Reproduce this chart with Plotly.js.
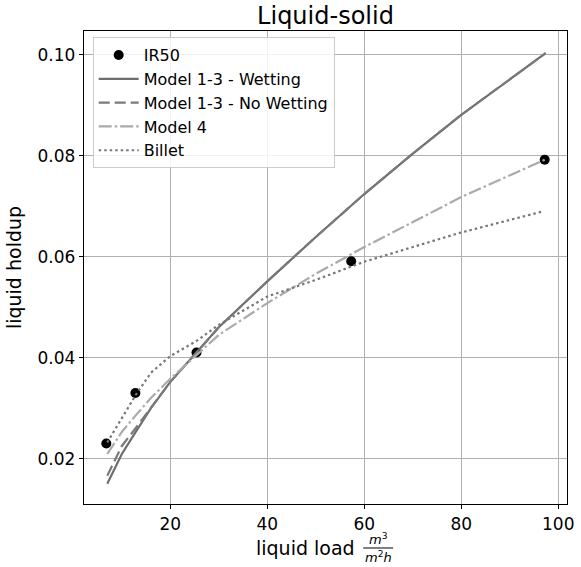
<!DOCTYPE html>
<html>
<head>
<meta charset="utf-8">
<script src="https://cdn.plot.ly/plotly-3.0.1.min.js"></script>
<style>
html,body{margin:0;padding:0;background:#fff;}
#chart{width:581px;height:567px;}
</style>
</head>
<body>
<div id="chart"></div>
<script>
// Experimental data (IR50)
const irX = [6.8, 12.8, 25.4, 57.3, 97.2];
const irY = [0.0230, 0.0330, 0.0410, 0.0591, 0.0792];

// Model curves
const wetX = [7, 10, 13, 16, 20, 25.4, 30, 40, 50, 60, 70, 80, 97.4];
const wetY = [0.0150, 0.0209, 0.0255, 0.0300, 0.0352, 0.0410, 0.0460, 0.0551, 0.0639, 0.0724, 0.0804, 0.0881, 0.1003];

const noWetX = [7, 10, 13, 16, 20, 25.4, 30, 40, 50, 60, 70, 80, 97.4];
const noWetY = [0.0166, 0.0225, 0.0262, 0.0300, 0.0352, 0.0410, 0.0460, 0.0551, 0.0639, 0.0724, 0.0804, 0.0881, 0.1003];

const m4X = [7, 10, 13, 16, 20, 25.4, 30, 40, 50, 60, 80, 97.2];
const m4Y = [0.0209, 0.0253, 0.0287, 0.0320, 0.0358, 0.0405, 0.0445, 0.0508, 0.0566, 0.0619, 0.0718, 0.0792];

const billetX = [7, 10, 13, 16, 20, 25.4, 30, 40, 50, 60, 80, 97];
const billetY = [0.0232, 0.0280, 0.0328, 0.0370, 0.0403, 0.0433, 0.0465, 0.0521, 0.0554, 0.0590, 0.0648, 0.0690];

const xTicks = [20, 40, 60, 80, 100];
const yTicks = [0.02, 0.04, 0.06, 0.08, 0.10];
const yTickText = ['0.02', '0.04', '0.06', '0.08', '0.10'];

const FONT = 'DejaVu Sans, sans-serif';

const traces = [
  {x: irX, y: irY, mode: 'markers', name: 'IR50',
   marker: {color: '#000', size: 10, symbol: 'circle'}},
  {x: wetX, y: wetY, mode: 'lines', name: 'Model 1-3 - Wetting',
   line: {color: '#6e6e6e', width: 2.2, dash: 'solid'}},
  {x: noWetX, y: noWetY, mode: 'lines', name: 'Model 1-3 - No Wetting',
   line: {color: '#7a7a7a', width: 2.2, dash: '11px,5px'}},
  {x: m4X, y: m4Y, mode: 'lines', name: 'Model 4',
   line: {color: '#aaaaaa', width: 2.2, dash: '13px,3px,2.5px,3px'}},
  {x: billetX, y: billetY, mode: 'lines', name: 'Billet',
   line: {color: '#777777', width: 2.2, dash: '2.5px,3px'}}
];

const layout = {
  width: 581, height: 567,
  margin: {l: 84, r: 14, t: 31, b: 63, pad: 0},
  paper_bgcolor: '#fff', plot_bgcolor: '#fff',
  font: {family: FONT, color: '#000', size: 16},
  title: {text: 'Liquid-solid', font: {family: FONT, size: 24, color: '#000'},
          x: 0.5, xanchor: 'center', xref: 'paper', y: 0.972, yanchor: 'middle', yref: 'container'},
  showlegend: true,
  legend: {x: 0.018, y: 0.987, xanchor: 'left', yanchor: 'top',
           bgcolor: 'rgba(255,255,255,0.85)', bordercolor: '#cccccc', borderwidth: 1,
           font: {family: FONT, size: 16, color: '#000'}, tracegroupgap: 0, itemwidth: 40},
  xaxis: {
    range: [2.2, 101.8], tickvals: xTicks, ticktext: xTicks.map(String),
    showgrid: true, gridcolor: '#b0b0b0', gridwidth: 1,
    zeroline: false, showline: true, linecolor: '#000', linewidth: 1.2, mirror: true,
    ticks: 'outside', ticklen: 4, tickwidth: 1, tickcolor: '#000',
    tickfont: {family: FONT, size: 17, color: '#000'},
    title: {text: ''}
  },
  yaxis: {
    range: [0.0110, 0.1047], tickvals: yTicks, ticktext: yTickText,
    showgrid: true, gridcolor: '#b0b0b0', gridwidth: 1,
    zeroline: false, showline: true, linecolor: '#000', linewidth: 1.2, mirror: true,
    ticks: 'outside', ticklen: 4, tickwidth: 1, tickcolor: '#000',
    tickfont: {family: FONT, size: 17, color: '#000'},
    title: {text: 'liquid holdup', font: {family: FONT, size: 19, color: '#000'}, standoff: 10}
  },
  annotations: [
    {text: 'liquid load', xref: 'paper', yref: 'paper', x: 0.565, y: -0.093,
     xanchor: 'right', yanchor: 'middle', showarrow: false,
     font: {family: FONT, size: 19, color: '#000'}},
    {text: '<i>m</i><sup>3</sup>', xref: 'paper', yref: 'paper', x: 0.609, y: -0.074,
     xanchor: 'center', yanchor: 'middle', showarrow: false,
     font: {family: FONT, size: 13, color: '#000'}},
    {text: '<i>m</i><sup>2</sup><i>h</i>', xref: 'paper', yref: 'paper', x: 0.609, y: -0.113,
     xanchor: 'center', yanchor: 'middle', showarrow: false,
     font: {family: FONT, size: 13, color: '#000'}}
  ],
  shapes: [
    {type: 'line', xref: 'paper', yref: 'paper', x0: 0.578, x1: 0.640, y0: -0.093, y1: -0.093,
     line: {color: '#000', width: 1}}
  ]
};

Plotly.newPlot('chart', traces, layout, {staticPlot: true, displayModeBar: false});
</script>
</body>
</html>
